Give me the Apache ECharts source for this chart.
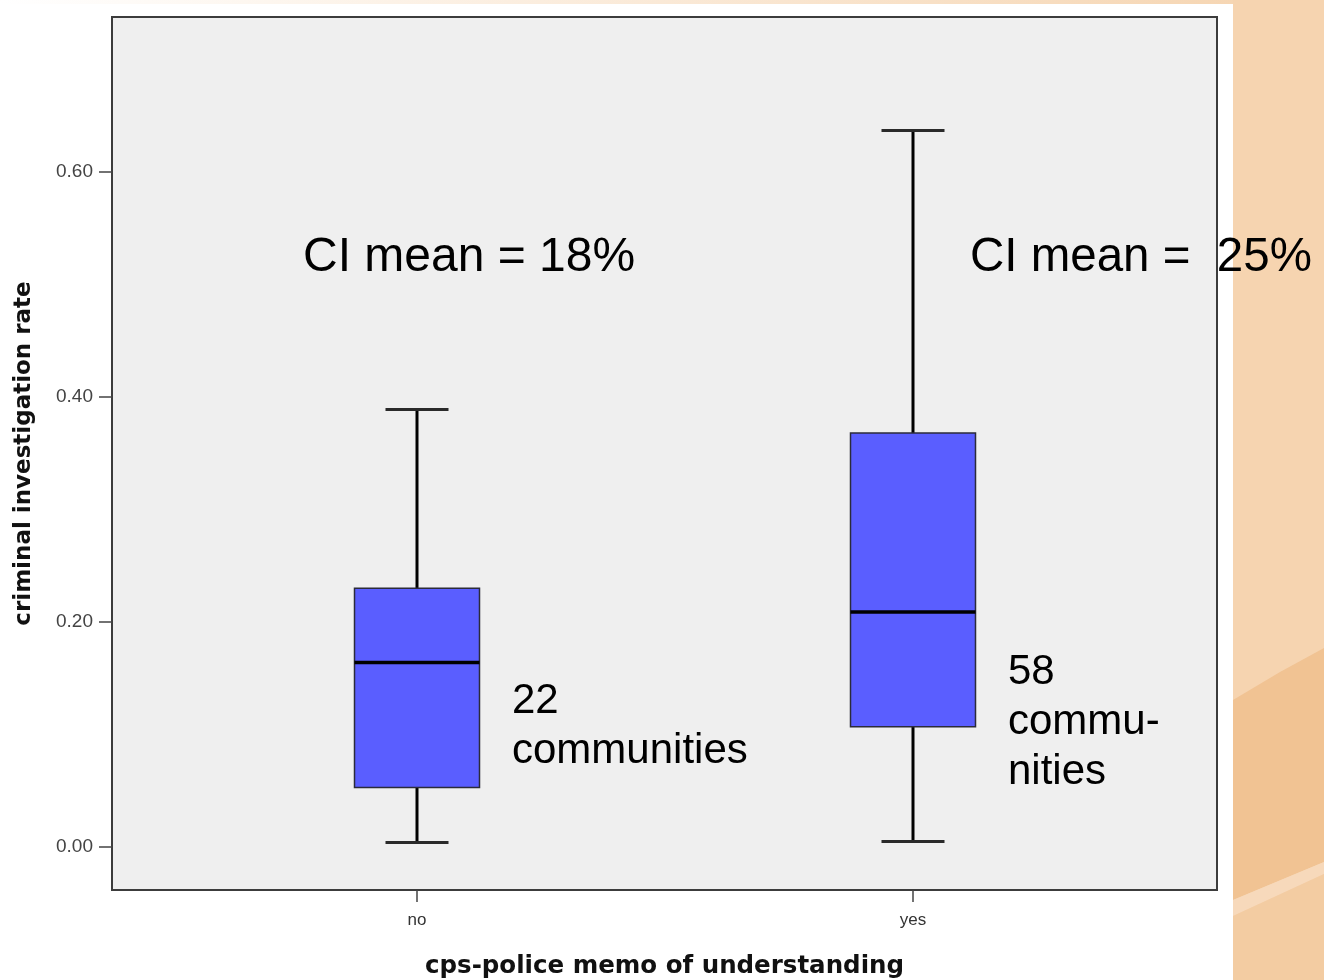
<!DOCTYPE html>
<html>
<head>
<meta charset="utf-8">
<script src="https://cdn.jsdelivr.net/npm/echarts@6/dist/echarts.min.js"></script>
<style>
  html, body { margin: 0; padding: 0; background: #fff; }
  #chart { width: 1324px; height: 980px; }
</style>
</head>
<body>
<div id="chart"></div>
<script>
// box plot summary per group
const groups = ['no', 'yes']
const whiskerLow = [0.004, 0.005]
const quart1 = [0.053, 0.107]
const medians = [0.164, 0.209]
const quart3 = [0.230, 0.368]
const whiskerHigh = [0.389, 0.637]
const yTicks = [0, 0.2, 0.4, 0.6]
const ciNotes = ['CI mean = 18%', 'CI mean =  25%']
const countNotes = ['22\ncommunities', '58\ncommu-\nnities']

const Y_MIN = -0.0382
const Y_MAX = 0.7378
const BOX_W = 125
const CAP_W = 63

const chart = echarts.init(document.getElementById('chart'), null, { renderer: 'canvas' })

const boxData = groups.map((g, i) => [i, whiskerLow[i], quart1[i], medians[i], quart3[i], whiskerHigh[i]])

function renderBox(params, api) {
  const i = api.value(0)
  const lo = api.coord([i, api.value(1)])
  const q1 = api.coord([i, api.value(2)])
  const md = api.coord([i, api.value(3)])
  const q3 = api.coord([i, api.value(4)])
  const hi = api.coord([i, api.value(5)])
  const cx = Math.round(lo[0])
  const line = (x1, y1, x2, y2, color, w) => ({
    type: 'line',
    shape: { x1, y1, x2, y2 },
    style: { stroke: color, lineWidth: w },
  })
  return {
    type: 'group',
    children: [
      line(cx, hi[1], cx, q3[1], '#000', 3),
      line(cx, q1[1], cx, lo[1], '#000', 3),
      line(cx - CAP_W / 2, hi[1], cx + CAP_W / 2, hi[1], '#2a2a2a', 3),
      line(cx - CAP_W / 2, lo[1], cx + CAP_W / 2, lo[1], '#2a2a2a', 3),
      {
        type: 'rect',
        shape: { x: cx - BOX_W / 2, y: q3[1], width: BOX_W, height: q1[1] - q3[1] },
        style: { fill: '#5a5eff', stroke: '#2b2b3a', lineWidth: 1.5 },
      },
      line(cx - BOX_W / 2, md[1], cx + BOX_W / 2, md[1], '#000', 3.5),
    ],
  }
}

const textBase = { fill: '#000', fontFamily: 'Liberation Sans, Arial, sans-serif' }

const option = {
  backgroundColor: '#ffffff',
  animation: false,
  graphic: [
    // slide background decoration on the right and top
    {
      type: 'rect', z: -10, silent: true,
      shape: { x: 0, y: 0, width: 1324, height: 4 },
      style: {
        fill: new echarts.graphic.LinearGradient(0, 0, 1, 0, [
          { offset: 0, color: '#ffffff' },
          { offset: 1, color: '#f5d3ae' },
        ]),
      },
    },
    {
      type: 'rect', z: -10, silent: true,
      shape: { x: 1233, y: 0, width: 91, height: 980 },
      style: { fill: '#f6d4b0' },
    },
    {
      type: 'polygon', z: -9, silent: true,
      shape: { points: [[1233, 700], [1280, 672], [1324, 648], [1324, 862], [1233, 900]] },
      style: { fill: '#f1c393' },
    },
    {
      type: 'polygon', z: -9, silent: true,
      shape: { points: [[1233, 900], [1324, 862], [1324, 874], [1233, 916]] },
      style: { fill: '#f7d9bb' },
    },
    {
      type: 'polygon', z: -9, silent: true,
      shape: { points: [[1233, 916], [1324, 874], [1324, 980], [1233, 980]] },
      style: { fill: '#f3cca2' },
    },
    // annotations
    { type: 'text', left: 303, top: 234, z: 10, style: { ...textBase, text: ciNotes[0], fontSize: 48 } },
    { type: 'text', left: 970, top: 234, z: 10, style: { ...textBase, text: ciNotes[1], fontSize: 47.5 } },
    { type: 'text', left: 512, top: 676, z: 10, style: { ...textBase, text: countNotes[0], fontSize: 42, lineHeight: 50 } },
    { type: 'text', left: 1008, top: 647, z: 10, style: { ...textBase, text: countNotes[1], fontSize: 42, lineHeight: 50 } },
  ],
  grid: [
    {
      left: 112, right: 107, top: 17, bottom: 90,
      outerBoundsMode: 'none',
      show: true,
      backgroundColor: '#efefef',
      borderColor: '#3c3c3c',
      borderWidth: 2,
      z: 0,
    },
    { left: 169, right: 163, top: 17, bottom: 90, outerBoundsMode: 'none', show: false },
  ],
  xAxis: [
    {
      gridIndex: 0,
      type: 'value',
      min: 0, max: 1,
      axisLine: { show: false, onZero: false },
      axisTick: { show: false },
      axisLabel: { show: false },
      splitLine: { show: false },
      name: 'cps-police memo of understanding',
      nameLocation: 'middle',
      nameGap: 64,
      nameTextStyle: { fontFamily: 'DejaVu Sans', fontWeight: 'bold', fontSize: 24.5, color: '#111' },
    },
    {
      gridIndex: 1,
      type: 'category',
      data: groups,
      boundaryGap: true,
      axisLine: { show: false, onZero: false },
      axisTick: { show: true, alignWithLabel: true, length: 12, lineStyle: { color: '#444', width: 1.5 } },
      axisLabel: { color: '#333', fontSize: 17, margin: 22, fontFamily: 'Liberation Sans, Arial, sans-serif' },
      splitLine: { show: false },
    },
  ],
  yAxis: [
    {
      gridIndex: 0,
      type: 'value',
      min: Y_MIN, max: Y_MAX,
      axisLine: { show: false },
      axisTick: { show: true, customValues: yTicks, length: 13, lineStyle: { color: '#444', width: 1.5 } },
      axisLabel: {
        customValues: yTicks,
        formatter: (v) => v.toFixed(2),
        color: '#444', fontSize: 19, margin: 19,
        fontFamily: 'Liberation Sans, Arial, sans-serif',
      },
      splitLine: { show: false },
      name: 'criminal investigation rate',
      nameLocation: 'middle',
      nameGap: 76,
      nameTextStyle: { fontFamily: 'DejaVu Sans', fontWeight: 'bold', fontSize: 23, color: '#111' },
    },
    {
      gridIndex: 1,
      type: 'value',
      min: Y_MIN, max: Y_MAX,
      show: false,
    },
  ],
  series: [{
    type: 'custom',
    xAxisIndex: 1,
    yAxisIndex: 1,
    clip: false,
    renderItem: renderBox,
    encode: { x: 0, y: [1, 2, 3, 4, 5] },
    data: boxData,
    z: 5,
  }],
}

chart.setOption(option)
</script>
</body>
</html>
